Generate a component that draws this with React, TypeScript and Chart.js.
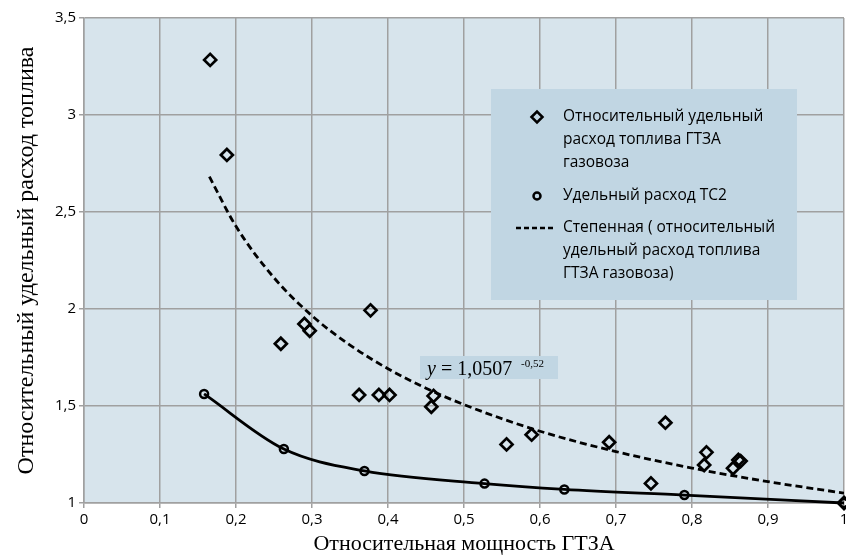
import React, { useEffect, useRef } from 'react';
import { Chart, registerables } from 'chart.js';

Chart.register(...registerables);

// Относительный удельный расход топлива ГТЗА газовоза (diamonds)
const gtzaPower = [0.166, 0.188, 0.259, 0.29, 0.297, 0.377, 0.362, 0.388, 0.402, 0.46, 0.457, 0.556, 0.589, 0.691, 0.765, 0.746, 0.819, 0.816, 0.854, 0.861, 0.864, 1.0];
const gtzaFuel = [3.284, 2.794, 1.821, 1.923, 1.888, 1.993, 1.557, 1.557, 1.557, 1.552, 1.496, 1.302, 1.352, 1.313, 1.414, 1.101, 1.261, 1.196, 1.179, 1.222, 1.216, 1.0];

// Удельный расход ТС2 (circles)
const tc2Power = [0.158, 0.263, 0.369, 0.527, 0.632, 0.79, 1.0];
const tc2Fuel = [1.562, 1.278, 1.165, 1.1, 1.07, 1.041, 1.0];

// Степенная линия тренда
const trendPower = [0.165, 0.2, 0.25, 0.3, 0.35, 0.4, 0.45, 0.5, 0.6, 0.7, 0.8, 0.9, 1.0];
const trendFuel = [2.682, 2.426, 2.161, 1.965, 1.814, 1.692, 1.592, 1.507, 1.37, 1.265, 1.18, 1.11, 1.051];

const xTitle = 'Относительная мощность ГТЗА';
const yTitle = 'Относительный удельный расход топлива';
const legendLines1 = ['Относительный удельный', 'расход топлива ГТЗА', 'газовоза'];
const legendLines2 = ['Удельный расход ТС2'];
const legendLines3 = ['Степенная ( относительный', 'удельный расход топлива', 'ГТЗА газовоза)'];
const eqMain = ' = 1,0507';
const eqExp = '-0,52';

const PLOT_BG = '#d7e4ec';
const BOX_BG = '#c1d6e3';
const GRID = '#a0a0a0';
const SANS = "'Open Sans', sans-serif";
const SERIF = "'Liberation Serif', 'Times New Roman', serif";

const fmt = (v: number) => {
  const r = Math.round(v * 10) / 10;
  return Number.isInteger(r) ? String(r) : r.toFixed(1).replace('.', ',');
};

const decorPlugin = {
  id: 'decor',
  beforeDraw(chart: any) {
    const { ctx, chartArea: a } = chart;
    ctx.save();
    ctx.fillStyle = PLOT_BG;
    ctx.fillRect(a.left, a.top, a.right - a.left, a.bottom - a.top);
    ctx.restore();
  },
  afterDatasetsDraw(chart: any) {
    const { ctx } = chart;
    ctx.save();
    // equation label
    ctx.fillStyle = BOX_BG;
    ctx.fillRect(420, 356, 138, 23);
    ctx.fillStyle = '#000';
    ctx.textBaseline = 'alphabetic';
    ctx.textAlign = 'left';
    ctx.font = `italic 20px ${SERIF}`;
    ctx.fillText('y', 427, 375);
    const yw = ctx.measureText('y').width;
    ctx.font = `20px ${SERIF}`;
    ctx.fillText(eqMain, 427 + yw, 375);
    ctx.font = `11px ${SERIF}`;
    ctx.fillText(eqExp, 521, 367);

    // legend box
    ctx.fillStyle = BOX_BG;
    ctx.fillRect(491, 89, 306, 211);
    ctx.fillStyle = '#000';
    ctx.font = `15.5px ${SANS}`;
    ctx.textBaseline = 'middle';
    const tx = 563;
    const lh = 23;
    legendLines1.forEach((t, i) => ctx.fillText(t, tx, 117 + i * lh));
    legendLines2.forEach((t, i) => ctx.fillText(t, tx, 196 + i * lh));
    legendLines3.forEach((t, i) => ctx.fillText(t, tx, 228 + i * lh));
    // markers
    ctx.strokeStyle = '#000';
    ctx.lineWidth = 2.5;
    ctx.beginPath();
    const mx = 537, my = 117, r = 5.5;
    ctx.moveTo(mx - r, my);
    ctx.lineTo(mx, my - r);
    ctx.lineTo(mx + r, my);
    ctx.lineTo(mx, my + r);
    ctx.closePath();
    ctx.stroke();
    ctx.beginPath();
    ctx.arc(537, 196, 3.5, 0, Math.PI * 2);
    ctx.stroke();
    ctx.beginPath();
    ctx.setLineDash([5, 3]);
    ctx.lineWidth = 2.5;
    ctx.moveTo(516, 228);
    ctx.lineTo(553, 228);
    ctx.stroke();
    ctx.restore();
  },
};

export default function App() {
  const ref = useRef<HTMLCanvasElement>(null);
  useEffect(() => {
    document.body.style.margin = '0';
    const chart = new Chart(ref.current!, {
      type: 'scatter',
      data: {
        datasets: [
          {
            label: 'trend',
            data: trendPower.map((x, i) => ({ x, y: trendFuel[i] })),
            showLine: true,
            borderColor: '#000',
            borderWidth: 2.8,
            borderDash: [7, 4],
            pointRadius: 0,
            cubicInterpolationMode: 'monotone',
            fill: false,
            order: 3,
          },
          {
            label: 'tc2',
            data: tc2Power.map((x, i) => ({ x, y: tc2Fuel[i] })),
            showLine: true,
            borderColor: '#000',
            borderWidth: 2.8,
            cubicInterpolationMode: 'monotone',
            pointStyle: 'circle',
            pointRadius: 4,
            pointBorderWidth: 2.5,
            pointBorderColor: '#000',
            pointBackgroundColor: 'rgba(0,0,0,0)',
            fill: false,
            clip: false,
            order: 2,
          },
          {
            label: 'gtza',
            data: gtzaPower.map((x, i) => ({ x, y: gtzaFuel[i] })),
            showLine: false,
            pointStyle: 'rectRot',
            pointRadius: 6,
            pointBorderWidth: 2.7,
            pointBorderColor: '#000',
            pointBackgroundColor: 'rgba(0,0,0,0)',
            clip: false,
            order: 1,
          },
        ],
      },
      options: {
        responsive: false,
        animation: false,
        events: [],
        layout: { autoPadding: false, padding: { top: 18, right: 2, left: 0, bottom: 0 } },
        plugins: { legend: { display: false }, tooltip: { enabled: false } },
        scales: {
          x: {
            type: 'linear',
            min: 0,
            max: 1,
            afterFit: (s: any) => { s.height = 53; s.paddingRight = 0; s.paddingLeft = 0; },
            ticks: {
              stepSize: 0.1,
              callback: (v: any) => fmt(Number(v)),
              color: '#000',
              font: { family: SANS, size: 15 },
              padding: 3,
              maxRotation: 0,
            },
            grid: { color: GRID, lineWidth: 1.5, tickLength: 5, tickColor: GRID },
            border: { color: GRID, width: 1.5 },
            title: {
              display: true,
              text: xTitle,
              color: '#000',
              font: { family: SERIF, size: 22 },
              padding: { top: 0, bottom: -1 },
            },
          },
          y: {
            type: 'linear',
            min: 1,
            max: 3.5,
            afterFit: (s: any) => { s.width = 84; s.paddingTop = 0; s.paddingBottom = 0; },
            ticks: {
              stepSize: 0.5,
              callback: (v: any) => String(v).replace('.', ','),
              color: '#000',
              font: { family: SANS, size: 15 },
              padding: 3,
            },
            grid: { color: GRID, lineWidth: 1.5, tickLength: 5, tickColor: GRID },
            border: { color: GRID, width: 1.5 },
            title: {
              display: true,
              text: yTitle,
              color: '#000',
              font: { family: SERIF, size: 24 },
              padding: { top: 12, bottom: 0 },
            },
          },
        },
      },
      plugins: [decorPlugin],
    } as any);
    return () => chart.destroy();
  }, []);
  return (
    <div style={{ position: 'absolute', left: 0, top: 0, width: 846, height: 556 }}>
      <canvas ref={ref} width={846} height={556} />
    </div>
  );
}
